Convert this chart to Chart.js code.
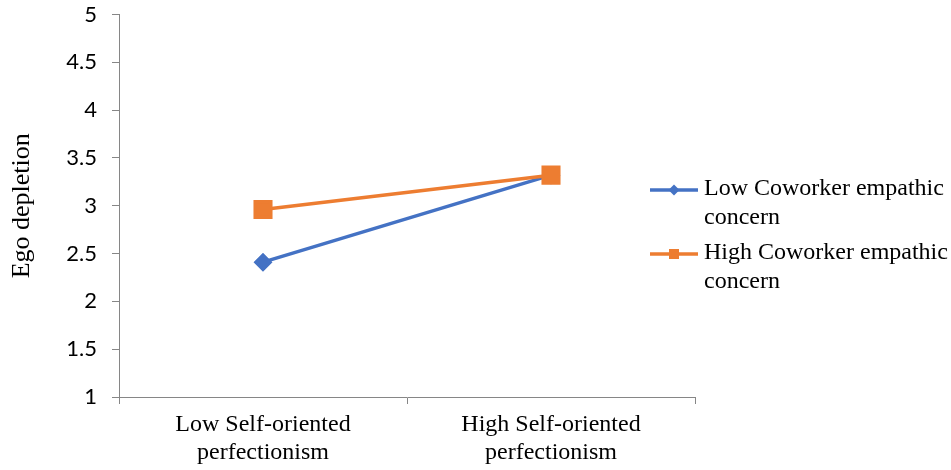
<!DOCTYPE html>
<html>
<head>
<meta charset="utf-8">
<script src="https://cdn.jsdelivr.net/npm/chart.js@4/dist/chart.umd.min.js"></script>
<style>
  html, body { margin: 0; padding: 0; background: #ffffff; }
  #wrap { width: 951px; height: 470px; }
</style>
</head>
<body>
<div id="wrap"><canvas id="chart" width="951" height="470"></canvas></div>
<script>
// Chart values
const categories = [['Low Self-oriented', 'perfectionism'], ['High Self-oriented', 'perfectionism']];
const lowCoworker = [2.41, 3.32];
const highCoworker = [2.96, 3.32];
const seriesNames = ['Low Coworker empathic concern', 'High Coworker empathic concern'];
const legendLines = [['Low Coworker empathic', 'concern'], ['High Coworker empathic', 'concern']];
const yTitle = 'Ego depletion';

const blue = '#4472C4';
const orange = '#ED7D31';
const axisGray = '#868686';
const serif = '"Liberation Serif", "Times New Roman", serif';

// Legend on the right, drawn by hand so the labels wrap like the original
const sideLegend = {
    id: 'sideLegend',
    afterDraw(chart) {
        const ctx = chart.ctx;
        const x0 = 650, x1 = 698, textX = 704;
        const firstY = 190, entryGap = 64, lineGap = 29;
        ctx.save();
        ctx.font = '24px ' + serif;
        ctx.textBaseline = 'middle';
        chart.data.datasets.forEach((ds, i) => {
            const y = firstY + i * entryGap;
            // sample line
            ctx.strokeStyle = ds.borderColor;
            ctx.lineWidth = 3.5;
            ctx.beginPath();
            ctx.moveTo(x0, y);
            ctx.lineTo(x1, y);
            ctx.stroke();
            // marker
            const mx = (x0 + x1) / 2;
            ctx.fillStyle = ds.borderColor;
            ctx.beginPath();
            if (ds.pointStyle === 'rectRot') {
                ctx.moveTo(mx - 5.5, y);
                ctx.lineTo(mx, y - 5.5);
                ctx.lineTo(mx + 5.5, y);
                ctx.lineTo(mx, y + 5.5);
                ctx.closePath();
            } else {
                ctx.rect(mx - 5, y - 5, 10, 10);
            }
            ctx.fill();
            // wrapped text
            ctx.fillStyle = '#000000';
            legendLines[i].forEach((line, j) => {
                ctx.fillText(line, textX, y - 1 + j * lineGap);
            });
        });
        ctx.restore();
    }
};

new Chart(document.getElementById('chart'), {
    type: 'line',
    data: {
        labels: categories,
        datasets: [{
            label: seriesNames[0],
            data: lowCoworker,
            borderColor: blue,
            backgroundColor: blue,
            borderWidth: 3.5,
            pointStyle: 'rectRot',
            pointRadius: 7,
            pointHoverRadius: 7,
            tension: 0,
            order: 1
        }, {
            label: seriesNames[1],
            data: highCoworker,
            borderColor: orange,
            backgroundColor: orange,
            borderWidth: 3.5,
            pointStyle: 'rect',
            pointRadius: 11,
            pointHoverRadius: 11,
            tension: 0,
            order: 0
        }]
    },
    options: {
        responsive: false,
        animation: false,
        devicePixelRatio: 1,
        layout: { padding: { left: 0, right: 256, top: 0, bottom: 0 } },
        plugins: {
            legend: { display: false },
            tooltip: { enabled: false }
        },
        scales: {
            x: {
                offset: true,
                grid: {
                    offset: true,
                    drawOnChartArea: false,
                    color: axisGray,
                    tickLength: 7
                },
                border: { color: axisGray, width: 1 },
                ticks: {
                    color: '#000000',
                    padding: 6,
                    maxRotation: 0,
                    font: { family: serif, size: 24, lineHeight: 1.2 }
                },
                afterFit(scale) { scale.height = 73; }
            },
            y: {
                min: 1,
                max: 5,
                ticks: {
                    stepSize: 0.5,
                    color: '#000000',
                    padding: 15,
                    font: { family: 'Lato, "Open Sans", sans-serif', size: 22 },
                    callback: (value) => String(value)
                },
                grid: {
                    drawOnChartArea: false,
                    color: axisGray,
                    tickLength: 7
                },
                border: { color: axisGray, width: 1 },
                title: {
                    display: true,
                    text: yTitle,
                    color: '#000000',
                    padding: { top: 7, bottom: 0 },
                    font: { family: serif, size: 26 }
                },
                afterFit(scale) {
                    scale.width = 119;
                    scale.paddingTop = 13;
                    scale.paddingBottom = 0;
                }
            }
        }
    },
    plugins: [sideLegend]
});
</script>
</body>
</html>
